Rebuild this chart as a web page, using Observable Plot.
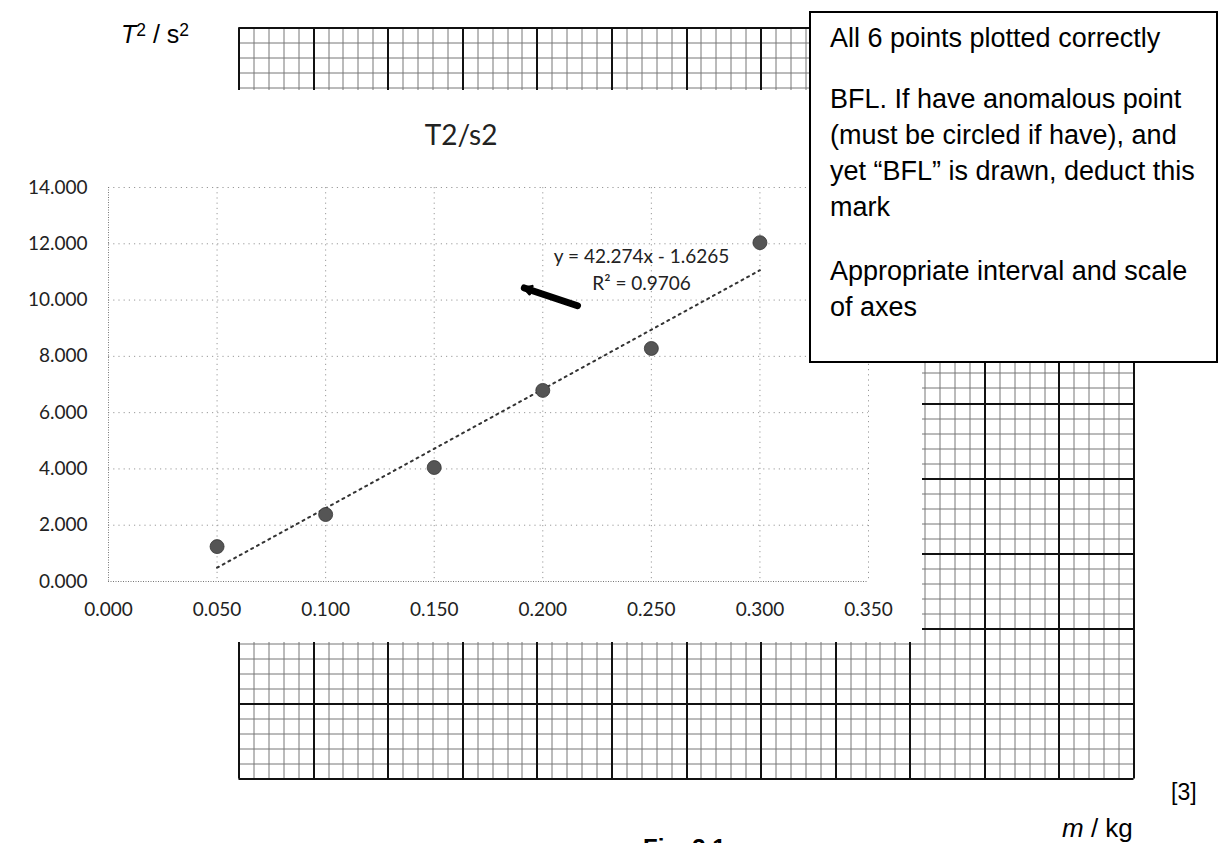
<!DOCTYPE html>
<html>
<head>
<meta charset="utf-8">
<script src="https://cdn.jsdelivr.net/npm/d3@7"></script>
<script src="https://cdn.jsdelivr.net/npm/@observablehq/plot@0.6"></script>
<style>
html, body { margin: 0; padding: 0; background: #fff; overflow: hidden; }
#page { position: relative; width: 1220px; height: 843px; overflow: hidden; background: #fff;
        font-family: "Liberation Sans", Arial, sans-serif; color: #000; }
.abs { position: absolute; }
#paper { left: 236px; top: 25px; }
#cover { left: 0; top: 90px; width: 922px; height: 552px; background: #fff; }
#chart { left: 0; top: 90px; }
#title { left: 0; top: 120px; width: 922px; text-align: center; font-family: Lato, sans-serif;
         font-size: 28px; line-height: 28px; color: #222; }
#box { left: 809px; top: 11px; width: 409px; height: 352px; box-sizing: border-box; border: 2px solid #000;
       background: #fff; padding: 6.6px 0 0 19px; font-size: 27px; line-height: 36px; white-space: nowrap; }
#box p { margin: 0; }
#box p.p2 { margin-top: 25px; }
#box p.p3 { margin-top: 28px; }
#ylab { left: 121px; top: 22px; font-size: 25px; line-height: 25px; white-space: nowrap; }
#mark3 { left: 1171px; top: 781px; font-size: 23px; line-height: 23px; }
#xlab { left: 1062px; top: 815px; font-size: 26px; line-height: 26px; white-space: nowrap; }
#fig { left: 643px; top: 836px; font-size: 24px; line-height: 24px; font-weight: bold; white-space: nowrap; }
.sup { position: relative; top: -0.42em; font-size: 0.7em; }
</style>
</head>
<body>
<div id="page">
  <div id="paper" class="abs"></div>
  <div id="cover" class="abs"></div>
  <div id="chart" class="abs"></div>
  <div id="title" class="abs"></div>
  <div id="box" class="abs">
    <p>All 6 points plotted correctly</p>
    <p class="p2">BFL. If have anomalous point<br>(must be circled if have), and<br>yet “BFL” is drawn, deduct this<br>mark</p>
    <p class="p3">Appropriate interval and scale<br>of axes</p>
  </div>
  <div id="ylab" class="abs"><i>T</i><span class="sup">2</span> / s<span class="sup">2</span></div>
  <div id="mark3" class="abs">[3]</div>
  <div id="xlab" class="abs"><i>m</i> / kg</div>
  <div id="fig" class="abs">Fig. 3.1</div>
</div>
<script>
// ---- chart data ----
const chartTitle = "T2/s2";
const massKg   = [0.05, 0.10, 0.15, 0.20, 0.25, 0.30];
const periodSq = [1.24, 2.38, 4.05, 6.79, 8.28, 12.04];
const trendMass = [0.05, 0.30];
const trendT2   = [0.49, 11.06];
const xTicks = [0, 0.05, 0.10, 0.15, 0.20, 0.25, 0.30, 0.35];
const yTicks = [0, 2, 4, 6, 8, 10, 12, 14];
const eqLines = ["y = 42.274x - 1.6265", "R² = 0.9706"];
// annotation anchors in data units
const eqMass = [0.2455, 0.2455];
const eqT2   = [11.55, 10.57];
const penMass = [0.2160, 0.1915];
const penT2   = [9.80, 10.43];

// ---- graph paper: 60 x 50 cells, bold line every 5 cells ----
const paperCols = 60, paperRows = 50;
const cols = d3.range(0, paperCols + 1);
const rows = d3.range(0, paperRows + 1);
const paperW = 895, paperH = 751, pad = 2;
const cx = i => Math.round(pad + i * paperW / paperCols) + 0.5;
const cy = i => Math.round(pad + i * paperH / paperRows) + 0.5;
const paper = Plot.plot({
  width: paperW + 2 * pad, height: paperH + 2 * pad,
  marginTop: 0, marginRight: 0, marginBottom: 0, marginLeft: 0,
  style: { background: "transparent" },
  x: { type: "identity", axis: null },
  y: { type: "identity", axis: null },
  marks: [
    Plot.ruleX(cols.filter(i => i % 5 !== 0), { x: cx, y1: cy(0), y2: cy(paperRows), stroke: "#777", strokeWidth: 1 }),
    Plot.ruleY(rows.filter(i => i % 5 !== 0), { y: cy, x1: cx(0), x2: cx(paperCols), stroke: "#777", strokeWidth: 1 }),
    Plot.ruleX(cols.filter(i => i % 5 === 0), { x: cx, y1: cy(0), y2: cy(paperRows), stroke: "#111", strokeWidth: 2 }),
    Plot.ruleY(rows.filter(i => i % 5 === 0), { y: cy, x1: cx(0), x2: cx(paperCols), stroke: "#111", strokeWidth: 2 })
  ]
});
document.getElementById("paper").appendChild(paper);

// ---- Excel-style chart ----
const points = massKg.map((m, i) => ({ m, t2: periodSq[i] }));
const trend = trendMass.map((m, i) => ({ m, t2: trendT2[i] }));
const eq = eqLines.map((t, i) => ({ t, m: eqMass[i], t2: eqT2[i] }));
const pen = [{ x1: penMass[0], y1: penT2[0], x2: penMass[1], y2: penT2[1] }];
const fmt = d3.format(".3f");

const chart = Plot.plot({
  width: 922, height: 552,
  marginLeft: 108, marginRight: 54, marginTop: 97, marginBottom: 61,
  style: { fontFamily: "Lato, sans-serif", fontSize: "19px", color: "#222", background: "transparent", overflow: "visible" },
  x: { domain: [0, 0.35], ticks: xTicks, tickFormat: fmt, tickSize: 0, tickPadding: 21, label: null },
  y: { domain: [0, 14], ticks: yTicks, tickFormat: fmt, tickSize: 0, tickPadding: 21, label: null },
  marks: [
    Plot.ruleY(yTicks.filter(d => d > 0), { stroke: "#999", strokeDasharray: "1.2,4" }),
    Plot.ruleX(xTicks.filter(d => d > 0), { stroke: "#999", strokeDasharray: "1.2,4" }),
    Plot.ruleX([0], { stroke: "#777", strokeDasharray: "1,1.5" }),
    Plot.ruleY([0], { stroke: "#777", strokeDasharray: "1,1.5" }),
    Plot.line(trend, { x: "m", y: "t2", stroke: "#333", strokeWidth: 2, strokeDasharray: "2,4.5" }),
    Plot.dot(points, { x: "m", y: "t2", r: 7, fill: "#555", stroke: "#333", strokeWidth: 0.8 }),
    Plot.text(eq, { x: "m", y: "t2", text: "t", fontFamily: "Lato, sans-serif", fontSize: 19, fill: "#222", textAnchor: "middle" }),
    Plot.link(pen, { x1: "x1", y1: "y1", x2: "x2", y2: "y2", stroke: "#000", strokeWidth: 7, strokeLinecap: "round" }),
    Plot.arrow(pen, { x1: "x1", y1: "y1", x2: "x2", y2: "y2", stroke: "#000", strokeWidth: 3, headLength: 4 })
  ]
});
document.getElementById("chart").appendChild(chart);
document.getElementById("title").textContent = chartTitle;
</script>
</body>
</html>
